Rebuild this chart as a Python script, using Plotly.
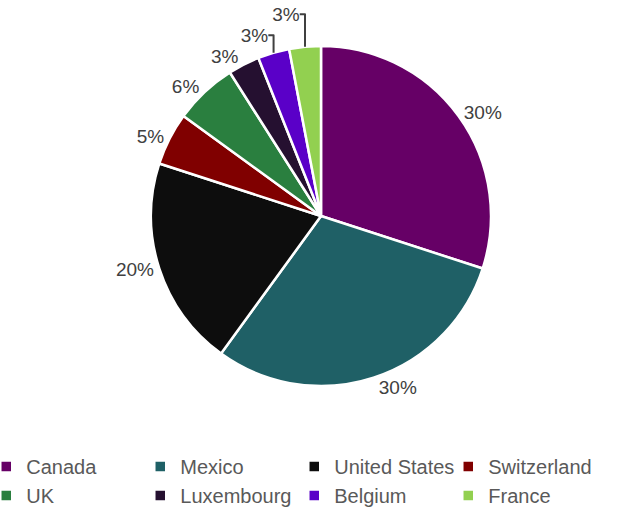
import plotly.graph_objects as go

countries = ["Canada", "Mexico", "United States", "Switzerland", "UK", "Luxembourg", "Belgium", "France"]
shares = [30, 30, 20, 5, 6, 3, 3, 3]
colors = ["#660066", "#1f6066", "#0d0d0d", "#800000", "#2a7f3f", "#251030", "#5a00c8", "#92d050"]

FONT = "Liberation Sans, Arial, sans-serif"
PLOT_H = 439  # plot-area height in px (margin bottom 75)

fig = go.Figure(go.Pie(
    labels=countries,
    values=shares,
    marker=dict(colors=colors, line=dict(color="white", width=2.5)),
    sort=False,
    direction="clockwise",
    rotation=0,
    textinfo="percent",
    texttemplate="%{percent:.0%}",
    textposition="outside",
    textfont=dict(family=FONT, size=19, color="#404040"),
    domain=dict(x=[151 / 624, 491 / 624], y=[(PLOT_H - 386) / PLOT_H, (PLOT_H - 46) / PLOT_H]),
    hoverinfo="label+percent",
))

fig.update_layout(
    width=624, height=514,
    margin=dict(l=0, r=0, t=0, b=514 - PLOT_H, autoexpand=False),
    paper_bgcolor="white",
    plot_bgcolor="white",
    showlegend=True,
    legend=dict(
        orientation="h",
        x=-0.022, y=-8 / PLOT_H, xanchor="left", yanchor="top",
        entrywidth=109, entrywidthmode="pixels",
        font=dict(family=FONT, size=20, color="#595959"),
        traceorder="normal",
        itemwidth=30,
    ),
)

fig.write_html("out.html")
